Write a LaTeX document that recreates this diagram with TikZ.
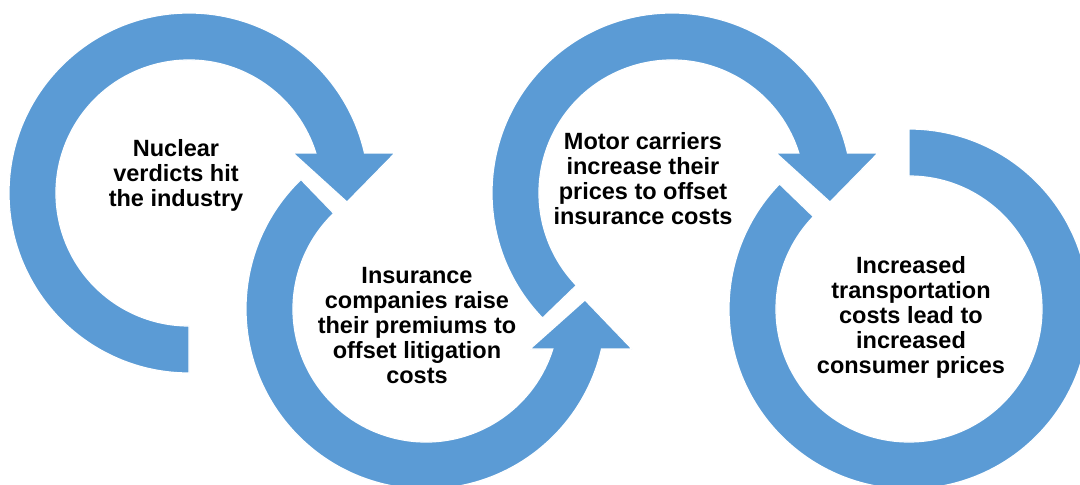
\documentclass[tikz,border=0pt]{standalone}
\usepackage{fontspec}
\setmainfont{Liberation Sans}
\definecolor{ringblue}{RGB}{91,155,213}

\begin{document}
\begin{tikzpicture}
[x=1pt,y=1pt,every node/.style={font=\bfseries\fontsize{23.5}{25}\selectfont,align=center,inner sep=0pt}]
\tikzset{ring/.style = {fill=ringblue,draw=white,line width=1.2pt}}
\useasboundingbox (0,0) rectangle (1080,-485);
  % first ring, from the bottom round to the arrow
  \begin{scope}[shift={(189,-193)}]
    \draw[ring] (270:180) arc[start angle=270,end angle=12.8,radius=180pt] -- (206,40) -- (158,-9) -- (104,40)
      -- (17.5:133) arc[start angle=17.5,end angle=270,radius=133pt] -- cycle;
  \end{scope}
  % second ring, arrow points up
  \begin{scope}[shift={(426,-309)}]
    \draw[ring] (134:180) arc[start angle=134,end angle=347.2,radius=180pt] -- (206,-40) -- (159,9) -- (104,-40)
      -- (342.5:133) arc[start angle=342.5,end angle=134,radius=133pt] -- cycle;
  \end{scope}
  % third ring
  \begin{scope}[shift={(672,-193)}]
    \draw[ring] (224:180) arc[start angle=224,end angle=12.8,radius=180pt] -- (206,40) -- (158,-9) -- (104,40)
      -- (17.5:133) arc[start angle=17.5,end angle=224,radius=133pt] -- cycle;
  \end{scope}
  % last ring, no arrow
  \begin{scope}[shift={(909,-309)}]
    \draw[ring] (136:180) arc[start angle=136,end angle=450,radius=180pt]
      -- (90:133) arc[start angle=450,end angle=136,radius=133pt] -- cycle;
  \end{scope}
  \node (verdicts) at (176,-175) {Nuclear\\verdicts hit\\the industry};
  \node (premiums) at (417,-326) {Insurance\\companies raise\\their premiums to\\offset litigation\\costs};
  \node (carriers) at (643,-179) {Motor carriers\\increase their\\prices to offset\\insurance costs};
  \node (consumer) at (911,-317) {Increased\\transportation\\costs lead to\\increased\\consumer prices};
\end{tikzpicture}
\end{document}
